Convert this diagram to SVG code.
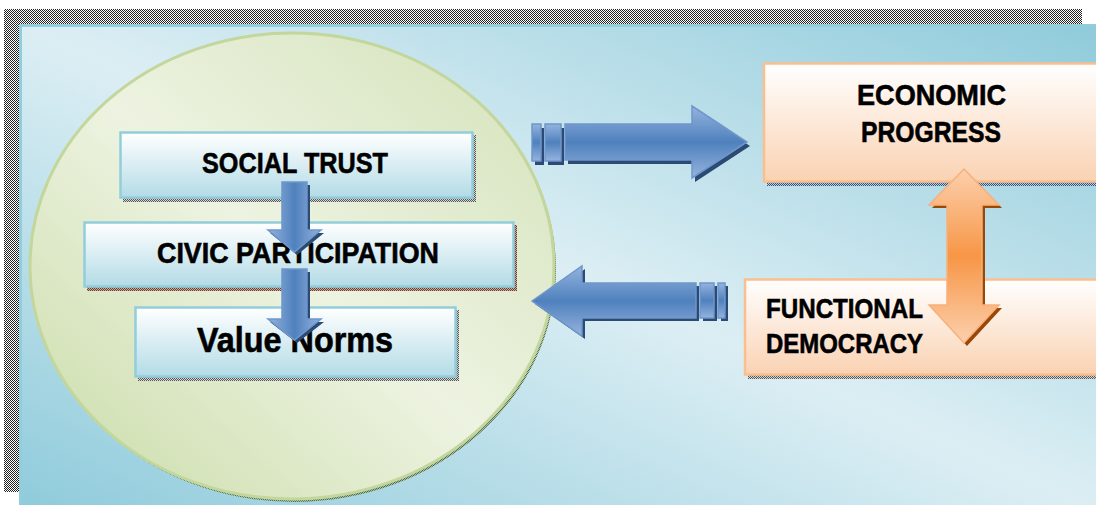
<svg xmlns="http://www.w3.org/2000/svg" width="1096" height="505" viewBox="0 0 1096 505">
  <defs>
    <!-- dithered shadow fills -->
    <pattern id="ditherGray" width="2" height="2" patternUnits="userSpaceOnUse">
      <rect width="2" height="2" fill="#ffffff"/>
      <rect width="1" height="1" fill="#222222"/>
      <rect x="1" y="1" width="1" height="1" fill="#222222"/>
    </pattern>
    <pattern id="ditherSoft" width="2" height="2" patternUnits="userSpaceOnUse">
      <rect width="2" height="2" fill="#d8d8d8"/>
      <rect width="1" height="1" fill="#555555"/>
      <rect x="1" y="1" width="1" height="1" fill="#555555"/>
    </pattern>
    <pattern id="ditherBrown" width="2" height="2" patternUnits="userSpaceOnUse">
      <rect width="2" height="2" fill="#c9b3a8"/>
      <rect width="1" height="1" fill="#6b3a2c"/>
      <rect x="1" y="1" width="1" height="1" fill="#6b3a2c"/>
    </pattern>
    <pattern id="ditherBlue" width="2" height="2" patternUnits="userSpaceOnUse">
      <rect width="2" height="2" fill="#b8cde0"/>
      <rect width="1" height="1" fill="#35557a"/>
      <rect x="1" y="1" width="1" height="1" fill="#35557a"/>
    </pattern>
    <pattern id="ditherGreen" width="2" height="2" patternUnits="userSpaceOnUse">
      <rect width="2" height="2" fill="#a9c0a0"/>
      <rect width="1" height="1" fill="#4e6a52"/>
      <rect x="1" y="1" width="1" height="1" fill="#4e6a52"/>
    </pattern>

    <linearGradient id="panelFill" x1="0" y1="1" x2="1" y2="0">
      <stop offset="0" stop-color="#8fcbdb"/>
      <stop offset="0.5" stop-color="#dcEEf4"/>
      <stop offset="1" stop-color="#8fcbdb"/>
    </linearGradient>
    <linearGradient id="circleFill" x1="0" y1="1" x2="1" y2="0">
      <stop offset="0" stop-color="#c9dba6"/>
      <stop offset="0.5" stop-color="#edf3e1"/>
      <stop offset="1" stop-color="#d3e1b8"/>
    </linearGradient>
    <linearGradient id="blueBox" x1="0" y1="0" x2="0" y2="1">
      <stop offset="0" stop-color="#ffffff"/>
      <stop offset="1" stop-color="#b3dbe6"/>
    </linearGradient>
    <linearGradient id="orangeBox" x1="0" y1="0" x2="0" y2="1">
      <stop offset="0" stop-color="#ffffff"/>
      <stop offset="1" stop-color="#fad2b2"/>
    </linearGradient>
    <linearGradient id="blueArrowH" x1="0" y1="0" x2="0" y2="1">
      <stop offset="0" stop-color="#95b3de"/>
      <stop offset="0.5" stop-color="#4f81bd"/>
      <stop offset="1" stop-color="#95b3de"/>
    </linearGradient>
    <linearGradient id="blueArrowV" x1="0" y1="0" x2="1" y2="0">
      <stop offset="0" stop-color="#95b3de"/>
      <stop offset="0.5" stop-color="#4f81bd"/>
      <stop offset="1" stop-color="#95b3de"/>
    </linearGradient>
    <linearGradient id="orangeArrow" x1="0" y1="0" x2="0" y2="1">
      <stop offset="0" stop-color="#fcd0ad"/>
      <stop offset="0.5" stop-color="#f79646"/>
      <stop offset="1" stop-color="#fcd0ad"/>
    </linearGradient>

    <style>
      .box-blue { fill: url(#blueBox); stroke: #92cddc; stroke-width: 2.5; }
      .box-orange { fill: url(#orangeBox); stroke: #fabf8f; stroke-width: 2.5; }
      .label { font-family: "Liberation Sans", Arial, sans-serif; font-weight: bold; fill: #000000; stroke: #000000; stroke-width: 0.6; }
      .arrow-blue-h { fill: url(#blueArrowH); stroke: #6f97cc; stroke-width: 1.5; stroke-linejoin: miter; }
      .arrow-blue-v { fill: url(#blueArrowV); stroke: #6f97cc; stroke-width: 1.5; }
      .arrow-shadow { fill: #2b4a74; }
      .arrow-orange { fill: url(#orangeArrow); stroke: #f9b07a; stroke-width: 1.5; }
      .arrow-orange-shadow { fill: #984807; }
    </style>
  </defs>

  <rect width="1096" height="505" fill="#ffffff"/>

  <!-- background panel and its shadow -->
  <g id="panel">
    <rect x="4" y="9" width="1078" height="483" fill="url(#ditherGray)"/>
    <rect x="20.5" y="25.5" width="1080" height="485" fill="url(#panelFill)" stroke="#92cddc" stroke-width="3"/>
  </g>

  <!-- social capital circle -->
  <g id="circle">
    <ellipse cx="294" cy="269" rx="262" ry="233" fill="url(#ditherGreen)"/>
    <ellipse cx="292" cy="266" rx="262" ry="233" fill="url(#circleFill)" stroke="#c3d69b" stroke-width="3"/>
  </g>

  <g id="social-trust">
    <rect x="123" y="135" width="353" height="67" fill="url(#ditherSoft)"/>
    <rect x="120.5" y="132.5" width="352" height="65" class="box-blue"/>
    <text x="202" y="173" class="label" font-size="30" textLength="186" lengthAdjust="spacingAndGlyphs">SOCIAL TRUST</text>
  </g>

  <g id="civic-participation">
    <rect x="87" y="225" width="430" height="66" fill="url(#ditherBrown)"/>
    <rect x="84.5" y="222.5" width="429" height="64" class="box-blue"/>
    <text x="157" y="263" class="label" font-size="29" textLength="282" lengthAdjust="spacingAndGlyphs">CIVIC PARTICIPATION</text>
  </g>

  <g id="value-norms">
    <rect x="138" y="310" width="321" height="71" fill="url(#ditherSoft)"/>
    <rect x="135.5" y="307.5" width="320" height="69" class="box-blue"/>
    <text x="197" y="352" class="label" font-size="35" textLength="196" lengthAdjust="spacingAndGlyphs">Value Norms</text>
  </g>

  <g id="economic-progress">
    <rect x="767" y="66" width="340" height="120" fill="url(#ditherBlue)"/>
    <rect x="764" y="63.5" width="340" height="118" class="box-orange"/>
    <text x="857" y="105" class="label" font-size="30" textLength="149" lengthAdjust="spacingAndGlyphs">ECONOMIC</text>
    <text x="861" y="142" class="label" font-size="29" textLength="140" lengthAdjust="spacingAndGlyphs">PROGRESS</text>
  </g>

  <g id="functional-democracy">
    <rect x="748" y="282" width="360" height="97" fill="url(#ditherSoft)"/>
    <rect x="745" y="279.5" width="360" height="95" class="box-orange"/>
    <text x="766" y="318" class="label" font-size="28" textLength="157" lengthAdjust="spacingAndGlyphs">FUNCTIONAL</text>
    <text x="766" y="353" class="label" font-size="28" textLength="157" lengthAdjust="spacingAndGlyphs">DEMOCRACY</text>
  </g>

  <!-- connectors -->
  <g id="connectors">
    <!-- social trust to civic participation -->
    <polygon class="arrow-shadow" points="285,185 310,185 310,233 324,233 297,255 270,233 285,233"/>
    <polygon class="arrow-blue-v" points="282,182 307,182 307,230 321,230 294.5,252 268,230 282,230"/>

    <!-- civic participation to value norms -->
    <polygon class="arrow-shadow" points="285,272 310,272 310,322 324,322 297,343 270,322 285,322"/>
    <polygon class="arrow-blue-v" points="282,269 307,269 307,319 321,319 294.5,340 268,319 282,319"/>

    <!-- circle to economic progress -->
    <g>
      <rect x="535" y="128" width="9" height="37" class="arrow-shadow"/>
      <rect x="548" y="128" width="16" height="37" class="arrow-shadow"/>
      <polygon class="arrow-shadow" points="568,128 695,128 695,110 750,146 695,182 695,164 568,164"/>
      <rect x="532" y="124" width="9" height="37" class="arrow-blue-h"/>
      <rect x="545" y="124" width="16" height="37" class="arrow-blue-h"/>
      <polygon class="arrow-blue-h" points="565,124 692,124 692,106 747,142 692,178 692,160 565,160"/>
    </g>

    <!-- functional democracy back to circle -->
    <g>
      <polygon class="arrow-shadow" points="535,304 585,269 585,286 699,286 699,321 585,321 585,339"/>
      <rect x="703" y="286" width="14" height="35" class="arrow-shadow"/>
      <rect x="721" y="286" width="7" height="35" class="arrow-shadow"/>
      <polygon class="arrow-blue-h" points="532,301 582,266 582,283 696,283 696,318 582,318 582,336"/>
      <rect x="700" y="283" width="14" height="35" class="arrow-blue-h"/>
      <rect x="718" y="283" width="7" height="35" class="arrow-blue-h"/>
    </g>

    <!-- economic progress and functional democracy -->
    <polygon class="arrow-orange-shadow" points="967,172 1002,208 985,208 985,308 1002,308 967,346 932,308 950,308 950,208 932,208"/>
    <polygon class="arrow-orange" points="964,169 999,205 982,205 982,305 999,305 964,343 929,305 947,305 947,205 929,205"/>
  </g>
</svg>
